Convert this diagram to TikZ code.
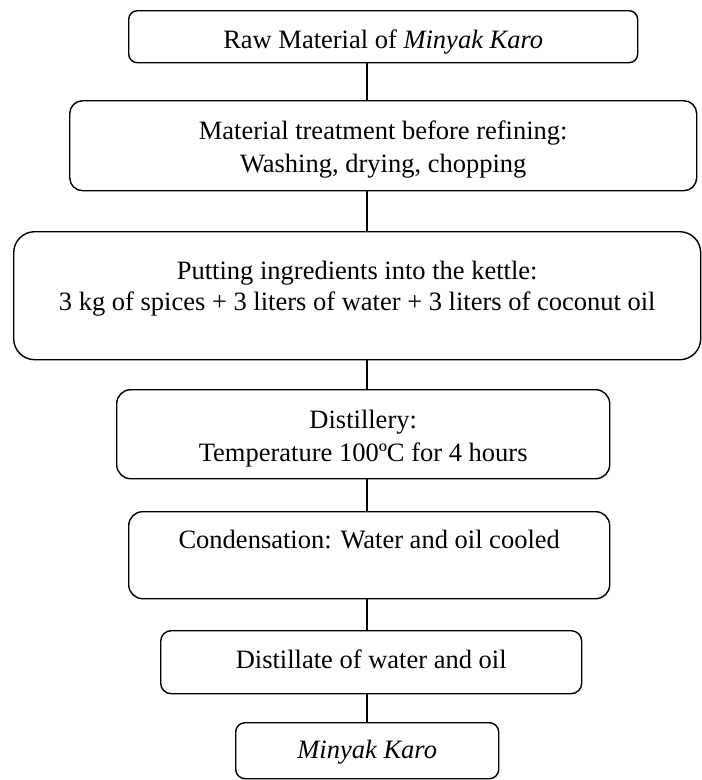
\documentclass[tikz,border=0pt]{standalone}
\usepackage{fontspec}
\setmainfont{Liberation Serif}
\tikzset{
  flowbox/.style={draw, line width=1.4pt, inner sep=0pt, anchor=north west,
    align=center, font=\fontsize{26.5}{33}\selectfont},
  link/.style={line width=1.2pt}
}
\begin{document}
\begin{tikzpicture}[x=1pt,y=-1pt]
\useasboundingbox (0,0) rectangle (702,780);
\node[flowbox, minimum width=509pt, minimum height=52pt, rounded corners=8.7pt,
  text height=29pt, text depth=5pt] (b1) at (128,10) {Raw Material of \textit{Minyak Karo}};
\node[flowbox, minimum width=627pt, minimum height=90pt, rounded corners=13pt,
  text height=59pt, text depth=5pt] (b2) at (69,100) {Material treatment before refining:\\Washing, drying, chopping};
\node[flowbox, minimum width=687pt, minimum height=128pt, rounded corners=21pt,
  text height=35pt, text depth=5pt, font=\fontsize{26.5}{31}\selectfont] (b3) at (13,231) {Putting ingredients into the kettle:\\3 kg of spices + 3 liters of water + 3 liters of coconut oil};
\node[flowbox, minimum width=493pt, minimum height=89pt, rounded corners=14pt,
  text height=60pt, text depth=5pt] (b4) at (116,389) {Distillery:\\Temperature 100ºC for 4 hours};
\node[flowbox, minimum width=481pt, minimum height=87pt, rounded corners=14pt,
  text height=7pt, text depth=20pt] (b5) at (128,511) {Condensation: Water and oil cooled};
\node[flowbox, minimum width=421pt, minimum height=63pt, rounded corners=10.5pt,
  text height=18pt, text depth=5pt] (b6) at (160,630) {Distillate of water and oil};
\node[flowbox, minimum width=263pt, minimum height=56pt, rounded corners=9.3pt,
  text height=21pt, text depth=5pt] (b7) at (235,722) {\textit{Minyak Karo}};
\coordinate (cx) at (367,0);
\draw[link] (b1.south -| cx) -- (b2.north -| cx);
\draw[link] (b2.south -| cx) -- (b3.north -| cx);
\draw[link] (b3.south -| cx) -- (b4.north -| cx);
\draw[link] (b4.south -| cx) -- (b5.north -| cx);
\draw[link] (b5.south -| cx) -- (b6.north -| cx);
\draw[link] (b6.south -| cx) -- (b7.north -| cx);
\end{tikzpicture}
\end{document}
